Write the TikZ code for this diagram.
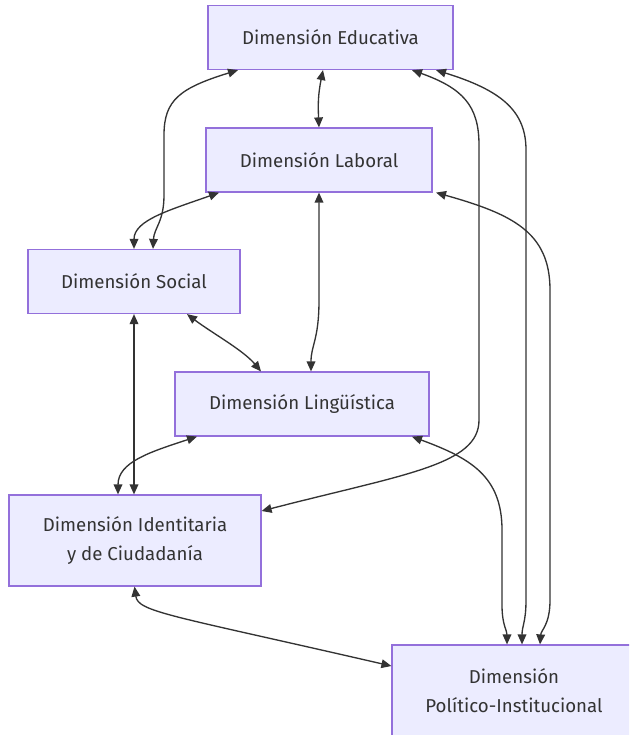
\documentclass[tikz,border=0pt]{standalone}
\usepackage{fontspec}
\setmainfont{Fira Sans}
\usetikzlibrary{arrows.meta}
\definecolor{boxfill}{HTML}{ECECFF}
\definecolor{boxline}{HTML}{9370DB}
\definecolor{edgec}{HTML}{333333}
\definecolor{txtc}{HTML}{333333}
\tikzset{
  dimbox/.style={draw=boxline, fill=boxfill, line width=0.9pt, inner sep=0pt,
    text=txtc, align=center, font=\fontsize{14}{21.75}\selectfont},
  onebox/.style={dimbox, minimum height=48pt},
  twobox/.style={dimbox, minimum height=68.25pt},
  rel/.style={draw=edgec, line width=1pt,
    {Triangle[length=7.5pt,width=6.5pt]}-{Triangle[length=7.5pt,width=6.5pt]}}
}
\begin{document}
\begin{tikzpicture}[x=0.75pt,y=-0.75pt]
\useasboundingbox (0,0) rectangle (629,735);
\clip (0,0) rectangle (629,735);
\fill[white] (0,0) rectangle (629,735);
% nodes
\node[onebox, minimum width=183.75pt] (E) at (330.5,37.5) {Dimensión Educativa};
\node[onebox, minimum width=169.5pt] (L) at (319,160) {Dimensión Laboral};
\node[onebox, minimum width=159pt] (S) at (134,281.5) {Dimensión Social};
\node[onebox, minimum width=190.5pt] (Li) at (302,404) {Dimensión Lingüística};
\node[twobox, minimum width=189pt] (I) at (135,540.5) {Dimensión Identitaria\\y de Ciudadanía};
\node[twobox, minimum width=183pt] (P) at (514,690.5) {Dimensión\\Político-Institucional};
% edges
\draw[rel] (323,0 |- E.south) .. controls (318,95) and (318,105) .. (319,0 |- L.north);
\draw[rel] (238,0 |- E.south) .. controls (180,88) and (164,100) .. (164,135)
  -- (164,195) .. controls (164,222) and (154,228) .. (153,0 |- S.north);
\draw[rel] (412,0 |- E.south) .. controls (462,88) and (479,105) .. (479,145)
  -- (479,420) .. controls (479,465) and (405,474) .. (I.east |- 0,511);
\draw[rel] (436,0 |- E.south) .. controls (500,90) and (526,110) .. (526,150)
  -- (526,600) .. controls (526,622) and (522,626) .. (522,0 |- P.north);
\draw[rel] (219,0 |- L.south) .. controls (170,210) and (134,220) .. (134,0 |- S.north);
\draw[rel] (319,0 |- L.south) -- (319,300) .. controls (319,340) and (311,345) .. (311,0 |- Li.north);
\draw[rel] (436,0 |- L.south) .. controls (512,214) and (550,232) .. (550,290)
  -- (550,600) .. controls (550,625) and (541,630) .. (540,0 |- P.north);
\draw[rel] (187,0 |- S.south) .. controls (212,333) and (243,350) .. (261,0 |- Li.north);
\draw[rel] (134,0 |- S.south) -- (134,0 |- I.north);
\draw[rel] (197,0 |- Li.south) .. controls (150,452) and (118,462) .. (118,0 |- I.north);
\draw[rel] (412,0 |- Li.south) .. controls (470,458) and (502,476) .. (502,530)
  -- (502,605) .. controls (502,625) and (507,630) .. (507,0 |- P.north);
\draw[rel] (134.5,0 |- I.south) .. controls (138,612) and (170,615) .. (P.west |- 0,666);
\end{tikzpicture}
\end{document}
